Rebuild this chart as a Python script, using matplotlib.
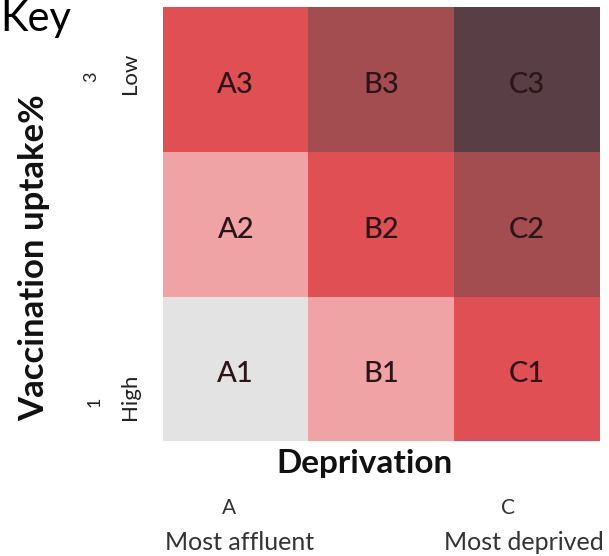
import matplotlib
matplotlib.use("Agg")
import matplotlib.pyplot as plt
from matplotlib.colors import ListedColormap
import numpy as np

# Data
deprivation = ["A", "B", "C"]
uptake_levels = [1, 2, 3]
# bivariate class level per cell (rows: uptake 1..3, cols: deprivation A..C)
class_grid = [
    [0, 1, 2],
    [1, 2, 3],
    [2, 3, 4],
]
cell_labels = [
    ["A1", "B1", "C1"],
    ["A2", "B2", "C2"],
    ["A3", "B3", "C3"],
]
class_colors = ["#e3e3e3", "#efa3a5", "#df4f53", "#a34d51", "#5a3e45"]

FONT = ["Lato", "DejaVu Sans"]

fig = plt.figure(figsize=(6.09, 5.56), dpi=100)
W, H = 609, 556
ax = fig.add_axes([163 / W, (H - 441) / H, 437 / W, 434 / H])

cmap = ListedColormap(class_colors)
ax.imshow(np.array(class_grid), cmap=cmap, vmin=-0.5, vmax=len(class_colors) - 0.5,
          origin="lower", aspect="auto", extent=(-0.5, 2.5, -0.5, 2.5))
for r in range(len(uptake_levels)):
    for c in range(len(deprivation)):
        ax.text(c, r - 0.04, cell_labels[r][c], ha="center", va="center",
                fontsize=21, color="#2b1517", family=FONT, fontweight="medium")
ax.set_xlim(-0.5, 2.5)
ax.set_ylim(-0.5, 2.5)
ax.set_xticks([])
ax.set_yticks([])
for s in ax.spines.values():
    s.set_visible(False)

def fx(px):
    return px / W

def fy(py):
    return 1 - py / H

fig.text(fx(0), fy(31), "Key", fontsize=30, family=FONT, ha="left", va="baseline")
fig.text(fx(34), fy(258), "Vaccination uptake%", fontsize=25, fontweight="bold",
         rotation=90, ha="center", va="center", family=FONT, color="#111111")
fig.text(fx(91), fy(77), str(uptake_levels[-1]), fontsize=13, rotation=90,
         ha="center", va="center", family=FONT, color="#222222")
fig.text(fx(130), fy(73), "Low", fontsize=16, rotation=90,
         ha="center", va="center", family=FONT, color="#222222")
fig.text(fx(95), fy(402), str(uptake_levels[0]), fontsize=13, rotation=90,
         ha="center", va="center", family=FONT, color="#222222")
fig.text(fx(130), fy(397), "High", fontsize=16, rotation=90,
         ha="center", va="center", family=FONT, color="#222222")
fig.text(fx(364), fy(464), "Deprivation", fontsize=24, fontweight="bold",
         ha="center", va="center", family=FONT, color="#111111")
fig.text(fx(229), fy(508), deprivation[0], fontsize=15, ha="center", va="center",
         family=FONT, color="#333333")
fig.text(fx(240), fy(542), "Most affluent", fontsize=18, ha="center", va="center",
         family=FONT, color="#333333")
fig.text(fx(508), fy(508), deprivation[-1], fontsize=15, ha="center", va="center",
         family=FONT, color="#333333")
fig.text(fx(524), fy(542), "Most deprived", fontsize=18, ha="center", va="center",
         family=FONT, color="#333333")

fig.savefig("out.png", dpi=100)
